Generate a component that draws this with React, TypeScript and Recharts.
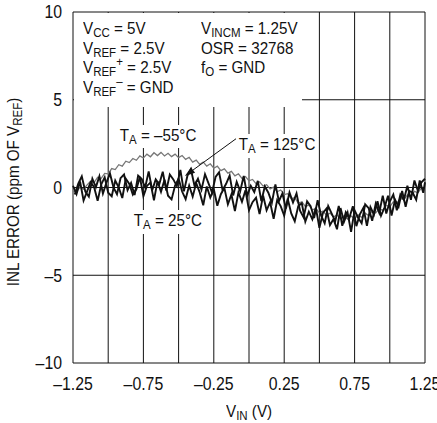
import React from "react";
import { LineChart, Line, XAxis, YAxis, ReferenceLine } from "recharts";

// Sample grids of V_IN (volts), 0.025 V spacing (second grid offset by half a step)
const vin: number[] = Array.from({ length: 101 }, (_, i) => Number((-1.25 + i * 0.025).toFixed(4)));
const vinB: number[] = Array.from({ length: 101 }, (_, i) => Number(Math.min(1.25, -1.2375 + i * 0.025).toFixed(4)));

// INL (ppm of VREF), TA = -55°C (grey trace)
const inlM55: number[] = [
  -0.2, -0.25, 0.02, -0.1, 0.15, 0.35, 0.28, 0.58, 0.52, 0.8,
  0.78, 1.08, 1.02, 1.3, 1.22, 1.5, 1.42, 1.65, 1.55, 1.8,
  1.68, 1.9, 1.75, 1.98, 1.82, 2.0, 1.8, 1.95, 1.76, 1.9,
  1.7, 1.82, 1.6, 1.72, 1.45, 1.56, 1.32, 1.45, 1.22, 1.35,
  1.1, 1.22, 0.96, 1.06, 0.82, 0.92, 0.66, 0.78, 0.52, 0.62,
  0.38, 0.46, 0.22, 0.32, 0.08, 0.16, -0.08, 0.02, -0.24, -0.14,
  -0.4, -0.35, -0.64, -0.58, -0.9, -0.82, -1.08, -1.0, -1.28, -1.2,
  -1.44, -1.34, -1.58, -1.46, -1.68, -1.56, -1.78, -1.62, -1.8, -1.62,
  -1.78, -1.56, -1.7, -1.46, -1.6, -1.34, -1.45, -1.2, -1.3, -1.02,
  -1.1, -0.82, -0.9, -0.62, -0.7, -0.42, -0.5, -0.22, -0.3, -0.02,
  -0.1,
];

// TA = 125°C (black trace, upper band on the left)
const inl125: number[] = [
  -0.4, 0.22, 0.64, -0.24, -0.52, 0.5, 0.02, 0.64, -0.34, 0.28,
  0.8, 0.01, -0.38, 0.53, 0.74, -0.15, 0.26, -0.43, 0.68, 0.49,
  0.0, 0.92, -0.16, 0.46, 0.18, 0.9, -0.18, 0.74, 0.46, 0.08,
  1.0, -0.22, 0.66, 1.04, 0.12, 0.5, -0.12, 0.76, 0.24, -0.28,
  0.6, 0.87, -0.16, 0.21, 0.68, -0.45, 0.32, -0.21, 0.66, -0.47,
  0.1, -0.26, 0.38, -0.78, 0.06, -0.3, -0.86, 0.18, -0.78, -0.34,
  -1.2, -0.28, -0.86, -0.34, -1.32, -1.7, -0.78, -1.06, -1.74, -0.72,
  -1.6, -2.03, -1.06, -1.49, -1.92, -1.05, -2.18, -1.41, -1.74, -1.07,
  -2.2, -1.53, -1.16, -2.19, -1.12, -1.55, -0.78, -1.61, -1.14, -0.47,
  -1.6, -0.7, -1.1, -0.2, -1.1, -0.2, -0.3, -0.7, 0.4, -0.3,
  0.3,
];

// TA = 25°C (black trace, lower band)
const inl25: number[] = [
  0.1, -0.38, 0.34, -0.74, -0.22, 0.3, 0.02, -0.76, 0.16, 0.58,
  -0.3, -0.5, 0.4, 0.0, -0.6, 0.5, 0.2, -0.4, -0.1, 0.6,
  -0.5, 0.09, 0.28, -0.73, 0.36, -0.25, 0.44, -0.47, -0.68, 0.11,
  0.5, -0.23, -0.66, 0.11, -0.52, 0.25, -0.28, -1.01, 0.06, -0.57,
  -0.1, -1.04, -0.38, -0.02, -0.96, -0.4, -1.34, -0.28, -0.82, -0.16,
  -1.3, -0.84, -0.58, -1.52, -0.46, -1.3, -0.84, -1.78, -0.72, -1.06,
  -1.6, -0.64, -1.48, -1.92, -1.06, -0.9, -1.94, -1.38, -1.82, -1.16,
  -2.3, -1.45, -1.2, -2.15, -1.8, -2.38, -1.17, -1.95, -1.43, -2.52,
  -1.3, -1.72, -2.04, -0.96, -1.18, -1.9, -0.92, -1.44, -0.46, -1.48,
  -0.8, -0.4, -1.3, -0.4, -0.7, 0.1, -0.7, 0.4, -0.2, 0.3,
  0.5,
];

const xTicks: number[] = [-1.25, -0.75, -0.25, 0.25, 0.75, 1.25];
const yTicks: number[] = [-10, -5, 0, 5, 10];
const gridX: number[] = [-1.25, -1, -0.75, -0.5, -0.25, 0, 0.25, 0.5, 0.75, 1, 1.25];
const gridY: number[] = [-10, -5, 0, 5, 10];

// arrow from the 125°C label to its trace: [vin, ppm]
const arrowFrom: [number, number] = [-0.085, 2.82];
const arrowTo: [number, number] = [-0.455, 0.66];

const dataM55 = vin.map((v, i) => ({ v, y: inlM55[i] }));
const data125 = vinB.map((v, i) => ({ v, y: inl125[i] }));
const data25 = vin.map((v, i) => ({ v, y: inl25[i] }));

const FONT = "'Liberation Sans', Arial, Helvetica, sans-serif";
const SX = 0.92;
const SXT = 0.88;
const FS = 16.5;
const fmtY = (n: number) => (n < 0 ? "\u2013" + Math.abs(n) : String(n));
const fmtX = (n: number) => (n < 0 ? "\u2013" + Math.abs(n).toFixed(2) : n.toFixed(2));

const YTick = (p: any) => (
  <text
    transform={`translate(${p.x},${p.y}) scale(${SXT},1)`}
    textAnchor="end"
    dy="0.36em"
    fontSize={18}
    fontFamily={FONT}
    fill="#111"
  >
    {fmtY(p.payload.value)}
  </text>
);
const XTick = (p: any) => (
  <text
    transform={`translate(${p.x},${p.y}) scale(${SXT},1)`}
    textAnchor="middle"
    dy="0.71em"
    fontSize={18}
    fontFamily={FONT}
    fill="#111"
  >
    {fmtX(p.payload.value)}
  </text>
);

const Sub = ({ children }: { children: React.ReactNode }) => (
  <span style={{ fontSize: 12.5, position: "relative", top: 3, lineHeight: 0 }}>{children}</span>
);
const Sup = ({ children }: { children: React.ReactNode }) => (
  <span style={{ fontSize: 12.5, position: "relative", top: -7, lineHeight: 0 }}>{children}</span>
);

const Txt = ({ left, base, children, bg }: { left: number; base: number; children: React.ReactNode; bg?: boolean }) => (
  <div
    style={{
      position: "absolute",
      left,
      top: base - 14,
      fontSize: FS,
      lineHeight: FS + "px",
      whiteSpace: "nowrap",
      fontFamily: FONT,
      color: "#111",
      transform: `scale(${SX},1)`,
      transformOrigin: "0 0",
      background: bg ? "#fff" : "transparent",
      padding: bg ? "2px 3px 5px 3px" : 0,
      margin: bg ? "-2px 0 0 -3px" : 0,
    }}
  >
    {children}
  </div>
);

const Arrow = (p: any) => {
  const { x1, y1, x2, y2 } = p;
  const ang = Math.atan2(y2 - y1, x2 - x1);
  const L = 10, W = 3.5;
  const bx = x2 - L * Math.cos(ang), by = y2 - L * Math.sin(ang);
  const px = -Math.sin(ang) * W, py = Math.cos(ang) * W;
  return (
    <g>
      <line x1={x1} y1={y1} x2={bx} y2={by} stroke="#111" strokeWidth={1} />
      <polygon points={`${x2},${y2} ${bx + px},${by + py} ${bx - px},${by - py}`} fill="#111" />
    </g>
  );
};

export default function App() {
  return (
    <div style={{ position: "absolute", left: 0, top: 0, width: 437, height: 423, background: "#fff", overflow: "hidden" }}>
      <LineChart width={437} height={423} margin={{ top: 12, right: 12, left: 0, bottom: 0 }}>
        <XAxis
          dataKey="v"
          type="number"
          domain={[-1.25, 1.25]}
          ticks={xTicks}
          axisLine={false}
          tickLine={false}
          tickMargin={8}
          height={60}
          interval={0}
          tick={<XTick />}
          allowDuplicatedCategory={false}
        />
        <YAxis
          type="number"
          domain={[-10, 10]}
          ticks={yTicks}
          axisLine={false}
          tickLine={false}
          tickMargin={5}
          width={73}
          interval={0}
          tick={<YTick />}
        />
        {gridX.map((g) => (
          <ReferenceLine key={"gx" + g} x={g} stroke="#111" strokeWidth={1} />
        ))}
        {gridY.map((g) => (
          <ReferenceLine key={"gy" + g} y={g} stroke="#111" strokeWidth={1} />
        ))}
        <Line data={dataM55} dataKey="y" stroke="#777" strokeWidth={1.3} dot={false} isAnimationActive={false} />
        <Line data={data125} dataKey="y" stroke="#111" strokeWidth={1.9} dot={false} isAnimationActive={false} />
        <Line data={data25} dataKey="y" stroke="#111" strokeWidth={1.9} dot={false} isAnimationActive={false} />
        <ReferenceLine
          segment={[
            { x: arrowFrom[0], y: arrowFrom[1] },
            { x: arrowTo[0], y: arrowTo[1] },
          ]}
          shape={Arrow}
        />
      </LineChart>

      {/* conditions box */}
      <div style={{ position: "absolute", left: 74, top: 13, width: 228, height: 94, background: "#fff" }} />
      <Txt left={83} base={34}>V<Sub>CC</Sub> = 5V</Txt>
      <Txt left={83} base={53.5}>V<Sub>REF</Sub> = 2.5V</Txt>
      <Txt left={83} base={73}>V<Sub>REF</Sub><Sup>+</Sup> = 2.5V</Txt>
      <Txt left={83} base={92.5}>V<Sub>REF</Sub><Sup>–</Sup> = GND</Txt>
      <Txt left={201} base={34}>V<Sub>INCM</Sub> = 1.25V</Txt>
      <Txt left={201} base={53.5}>OSR = 32768</Txt>
      <Txt left={201} base={73}>f<Sub>O</Sub> = GND</Txt>

      {/* trace labels */}
      <Txt left={120} base={140.5} bg>T<Sub>A</Sub> = –55°C</Txt>
      <Txt left={239} base={150} bg>T<Sub>A</Sub> = 125°C</Txt>
      <Txt left={134} base={226} bg>T<Sub>A</Sub> = 25°C</Txt>

      {/* axis titles */}
      <Txt left={226} base={417}>V<Sub>IN</Sub> (V)</Txt>
      <div
        style={{
          position: "absolute",
          left: 14 - 110,
          top: 192 - 9,
          width: 220,
          height: 18,
          textAlign: "center",
          transform: `rotate(-90deg) scale(${SX},1)`,
          fontSize: FS,
          lineHeight: "17px",
          whiteSpace: "nowrap",
          fontFamily: FONT,
          color: "#111",
        }}
      >
        INL ERROR (ppm OF V<Sub>REF</Sub>)
      </div>
    </div>
  );
}
